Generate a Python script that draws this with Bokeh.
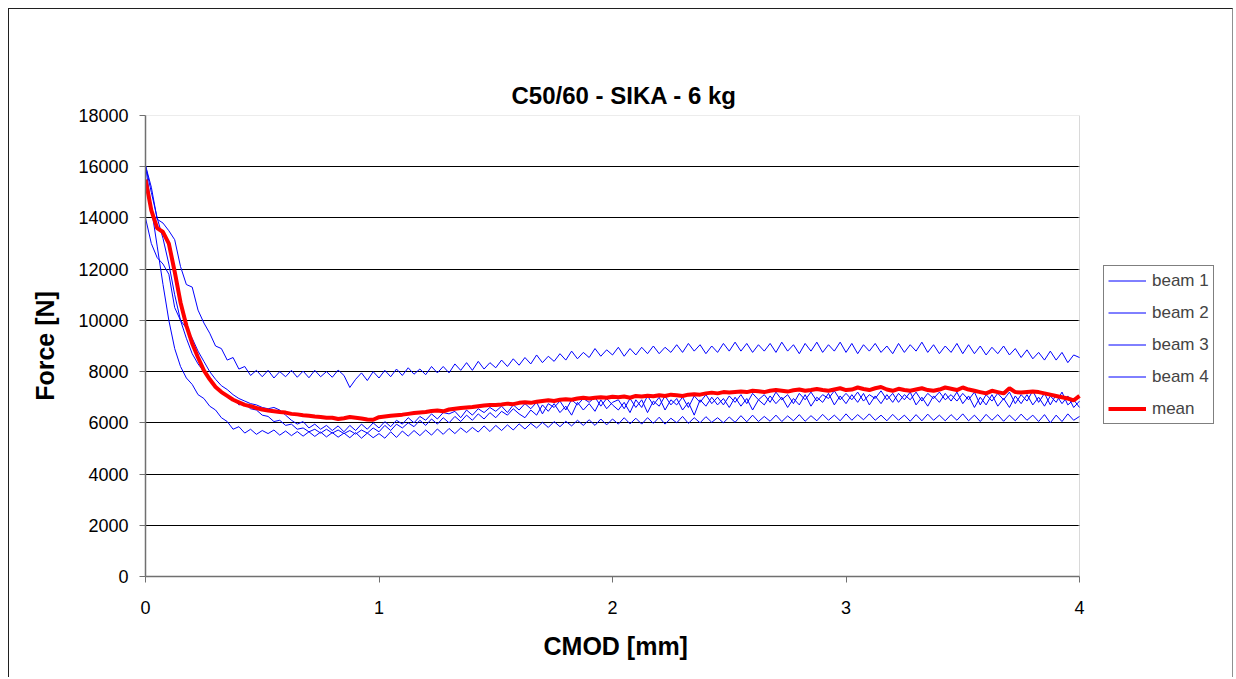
from bokeh.plotting import figure
from bokeh.models import (Range1d, SingleIntervalTicker, FixedTicker, Legend, LegendItem,
                          BoxAnnotation, Title, LinearAxis)
from bokeh.embed import file_html
from bokeh.resources import INLINE

title_text = "C50/60 - SIKA - 6 kg"
x_label = "CMOD [mm]"
y_label = "Force [N]"
series_names = ["beam 1", "beam 2", "beam 3", "beam 4", "mean"]

# CMOD sample grid [mm], 0.025 mm spacing
cmod = [round(i * 0.025, 3) for i in range(161)]

beam1 = [16050, 14400, 12900, 11400, 10000, 8900, 8200, 7750, 7500, 7100,
         6950, 6650, 6500, 6200, 6050, 5750, 5850, 5600, 5750, 5550,
         5700, 5580, 5720, 5520, 5680, 5500, 5660, 5480, 5650, 5470,
         5640, 5450, 5620, 5440, 5600, 5420, 5620, 5400, 5600, 5420,
         5580, 5400, 5650, 5430, 5680, 5480, 5700, 5500, 5720, 5520,
         5760, 5550, 5780, 5580, 5800, 5620, 5820, 5640, 5880, 5660,
         5900, 5700, 5920, 5720, 5960, 5760, 5980, 5800, 6020, 5820,
         6050, 5850, 6060, 5880, 6100, 5900, 6120, 5900, 6150, 5920,
         6150, 5950, 6200, 5960, 6180, 5950, 6200, 5980, 6220, 5950,
         6180, 6000, 6250, 5980, 6200, 6000, 6240, 6020, 6200, 6000,
         6230, 6020, 6280, 6040, 6300, 6050, 6250, 6060, 6300, 6050,
         6270, 6080, 6320, 6060, 6280, 6080, 6330, 6100, 6300, 6080,
         6350, 6100, 6320, 6120, 6350, 6100, 6300, 6080, 6330, 6100,
         6300, 6060, 6320, 6080, 6340, 6100, 6300, 6080, 6320, 6100,
         6350, 6080, 6300, 6050, 6330, 6100, 6320, 6060, 6300, 6080,
         6340, 6100, 6300, 6050, 6320, 6000, 6300, 6050, 6350, 6100,
         6250]

beam2 = [16050, 15200, 13950, 13800, 13500, 13150, 12100, 11400, 11300, 10400,
         9900, 9500, 9000, 8900, 8450, 8550, 8100, 8200, 7850, 8050,
         7800, 8050, 7750, 8000, 7800, 8050, 7780, 8020, 7760, 8050,
         7800, 8000, 7780, 8060, 7850, 7380, 7700, 7950, 7650, 8000,
         7750, 8050, 7800, 8100, 7850, 8150, 7900, 8100, 7880, 8200,
         7950, 8200, 7950, 8300, 8050, 8350, 8050, 8400, 8100, 8350,
         8150, 8450, 8200, 8500, 8250, 8550, 8300, 8650, 8350, 8600,
         8400, 8700, 8450, 8800, 8500, 8750, 8550, 8900, 8600, 8850,
         8650, 8950, 8600, 8900, 8650, 8950, 8700, 9000, 8700, 8950,
         8750, 9050, 8750, 9100, 8800, 9050, 8700, 9000, 8750, 9100,
         8800, 9150, 8800, 9100, 8750, 9050, 8800, 9100, 8750, 9150,
         8800, 9050, 8700, 9100, 8800, 9150, 8750, 9050, 8800, 9150,
         8750, 9100, 8700, 9050, 8800, 9100, 8750, 9000, 8700, 9100,
         8750, 9050, 8800, 9150, 8750, 9050, 8700, 9000, 8750, 9100,
         8700, 9050, 8700, 9000, 8650, 8950, 8700, 9000, 8650, 8900,
         8550, 8850, 8500, 8750, 8450, 8800, 8450, 8750, 8350, 8650,
         8550]

beam3 = [14000, 13000, 12450, 12200, 11800, 10500, 10000, 9700, 9300, 8800,
         8400, 8000, 7700, 7450, 7300, 7100, 6950, 6850, 6750, 6700,
         6600, 6550, 6600, 6500, 6300, 6100, 5950, 6050, 5800, 5950,
         5750, 5900, 5700, 5880, 5650, 5900, 5700, 5950, 5750, 6000,
         5800, 6050, 5850, 6100, 5950, 6200, 6000, 6250, 6100, 6350,
         6150, 6400, 6350, 6450, 6200, 6500, 6300, 6550, 6400, 6600,
         6450, 6650, 6400, 6700, 6500, 6750, 6550, 6800, 6350, 6750,
         6600, 6850, 6500, 6900, 6700, 6950, 6800, 7000, 6650, 6950,
         6700, 6500, 6800, 6400, 6900, 6600, 7050, 6700, 7000, 6500,
         6900, 6700, 7000, 6600, 7050, 6800, 7100, 6750, 7000, 6700,
         7050, 6800, 7100, 6750, 7150, 6900, 7100, 6800, 7200, 6900,
         7100, 6750, 7150, 6900, 7200, 6850, 7100, 6950, 7250, 6900,
         7150, 6900, 7200, 6850, 7100, 6950, 7250, 6900, 7150, 6800,
         7100, 6900, 7200, 6850, 7150, 6950, 7200, 6900, 7100, 6850,
         7150, 6900, 7200, 6700, 7100, 6850, 7150, 6900, 7200, 6750,
         7100, 6850, 7250, 6800, 7150, 6700, 7100, 6750, 7050, 6600,
         6850]

beam4 = [16050, 15000, 14000, 13200, 12200, 11000, 10000, 9300, 8700, 8300,
         8000, 7700, 7400, 7250, 7000, 6950, 6700, 6750, 6550, 6500,
         6300, 6250, 6050, 6100, 5900, 5950, 5750, 5800, 5650, 5750,
         5600, 5750, 5600, 5720, 5580, 5700, 5560, 5720, 5600, 5800,
         5650, 5900, 5700, 5950, 5800, 6000, 5850, 6100, 5900, 6150,
         5950, 6200, 6000, 6250, 6050, 6300, 6100, 6350, 6150, 6400,
         6200, 6450, 6300, 6550, 6350, 6200, 6500, 6300, 6700, 6450,
         6750, 6400, 6650, 6300, 6800, 6500, 6750, 6450, 6900, 6550,
         6800, 6900, 6550, 6950, 6600, 6900, 6400, 6850, 6650, 7050,
         6700, 6950, 6500, 6800, 6300, 6900, 6650, 7000, 6700, 6950,
         6600, 7000, 6650, 6950, 6500, 6900, 6700, 7050, 6750, 7000,
         6600, 6950, 6700, 7100, 6650, 7000, 6800, 7150, 6700, 7050,
         6750, 7100, 6800, 7150, 6700, 7050, 6750, 7100, 6800, 7150,
         6900, 7200, 6700, 7000, 6650, 7050, 6800, 7150, 6850, 7200,
         6750, 7050, 6600, 7000, 6700, 7100, 6650, 6950, 6600, 7050,
         6750, 7100, 6700, 7000, 6650, 7050, 6800, 7200, 6700, 6900,
         6600]

mean = [15500, 14300, 13600, 13450, 13000, 11900, 10700, 9800, 9100, 8550,
        8050, 7700, 7400, 7200, 7050, 6900, 6800, 6700, 6650, 6580,
        6520, 6480, 6450, 6420, 6400, 6350, 6330, 6300, 6280, 6250,
        6230, 6200, 6200, 6150, 6180, 6230, 6200, 6170, 6130, 6120,
        6220, 6250, 6280, 6300, 6320, 6350, 6380, 6400, 6420, 6460,
        6480, 6450, 6520, 6550, 6580, 6600, 6620, 6650, 6680, 6700,
        6700, 6720, 6750, 6730, 6780, 6800, 6780, 6820, 6850, 6880,
        6850, 6900, 6920, 6900, 6950, 6980, 6950, 6980, 7000, 6980,
        7020, 7000, 7030, 6980, 7050, 7030, 7060, 7040, 7080, 7050,
        7100, 7080, 7050, 7100, 7120, 7100, 7150, 7180, 7150, 7200,
        7180, 7200, 7220, 7200, 7250, 7230, 7200, 7250, 7280, 7250,
        7220, 7270, 7300, 7250, 7280, 7320, 7280, 7250, 7300, 7350,
        7280, 7300, 7380, 7320, 7280, 7350, 7400, 7300, 7250, 7330,
        7280, 7250, 7300, 7350, 7280, 7250, 7300, 7380, 7330, 7280,
        7380, 7300, 7250, 7200, 7150, 7250, 7200, 7150, 7350, 7200,
        7180, 7200, 7220, 7200, 7150, 7100, 7050, 7000, 6950, 6880,
        7050]

X_MIN, X_MAX = 0, 4
Y_MIN, Y_MAX = 0, 18000

FONT = "Liberation Sans"
# the figure sits inside a bordered box whose canvas starts at page pixel (9.5, 9.5)
W, H = 1225, 669
ML, MT = 136, 106            # plot area left / top inside the canvas
MR, MB = 0, H - 567          # frame reaches the right edge (room for the legend)
PLOT_W = 934                 # pixel width of the 0..4 mm plot area
frame_w = W - ML - MR
x_end = X_MAX * frame_w / PLOT_W

p = figure(width=W, height=H, output_backend="svg", toolbar_location=None,
           x_range=Range1d(X_MIN, x_end), y_range=Range1d(Y_MIN, Y_MAX),
           min_border_left=ML, min_border_right=MR,
           min_border_top=MT, min_border_bottom=MB,
           background_fill_color="white", border_fill_color="white")
p.title_location = None
p.styles = {"margin-left": "8px", "margin-top": "8px",
            "border-top": "1.5px solid #202020",
            "border-left": "1.5px solid #202020",
            "border-right": "1.5px solid #909090"}

p.outline_line_color = None

p.xgrid.grid_line_color = None
p.ygrid.grid_line_color = "black"
p.ygrid.grid_line_width = 1

p.xaxis.ticker = SingleIntervalTicker(interval=1)
p.yaxis.ticker = SingleIntervalTicker(interval=2000)
p.xaxis.bounds = (X_MIN, X_MAX)
for ax in (p.xaxis[0], p.yaxis[0]):
    ax.axis_line_color = "#707070"
    ax.axis_line_width = 1.5
    ax.major_tick_line_color = "#707070"
    ax.major_tick_in = 0
    ax.major_tick_out = 6
    ax.minor_tick_line_color = None
    ax.major_label_text_font = FONT
    ax.major_label_text_font_size = "18px"
    ax.major_label_text_color = "black"
    ax.axis_label_text_font = FONT
    ax.axis_label_text_font_style = "bold"
    ax.axis_label_text_font_size = "25px"
    ax.axis_label_text_color = "black"

p.yaxis.axis_label = y_label
p.xaxis.major_label_standoff = 18
p.yaxis.major_label_standoff = 11
p.yaxis.axis_label_standoff = 16

# chart title
p.add_layout(Title(text=title_text, align="left", offset=366, vertical_align="top",
                   standoff=10, text_font=FONT, text_font_style="bold",
                   text_font_size="24px", text_color="black"), "above")

# invisible spacer between plot area and chart title (white, tick-less axis)
spacer = LinearAxis(ticker=FixedTicker(ticks=[]), axis_line_color="white",
                    major_tick_line_color="white", minor_tick_line_color=None,
                    major_tick_in=0, major_tick_out=48, major_label_standoff=0,
                    major_label_text_font_size="1px")
p.add_layout(spacer, "above")

# x-axis title, centred under the 0..4 mm plot area
p.add_layout(Title(text=x_label, align="left", offset=398, vertical_align="top",
                   standoff=30, text_font=FONT, text_font_style="bold",
                   text_font_size="25px", text_color="black"), "below")

# blank out the gridlines to the right of the plot area (legend area)
p.add_layout(BoxAnnotation(left=X_MAX, fill_color="white", fill_alpha=1,
                           line_color="white", line_width=3, level="underlay"))
# plot-area border
p.add_layout(BoxAnnotation(left=X_MIN, right=X_MAX, bottom=Y_MIN, top=Y_MAX,
                           fill_alpha=0, line_color="#808080", line_width=1,
                           level="underlay"))

series = [beam1, beam2, beam3, beam4]
items = []
for name, ys in zip(series_names[:4], series):
    r = p.line(cmod, ys, line_color="#0000FF", line_width=1)
    items.append(LegendItem(label=name, renderers=[r]))
r = p.line(cmod, mean, line_color="#FF0000", line_width=4)
items.append(LegendItem(label=series_names[4], renderers=[r]))

lg = Legend(items=items, location=(958, 152))
lg.margin = 0
lg.padding = 4
lg.spacing = 11
lg.glyph_width = 38
lg.glyph_height = 21
lg.label_height = 21
lg.label_standoff = 6
lg.label_text_font = FONT
lg.label_text_font_size = "17px"
lg.border_line_color = "black"
lg.border_line_width = 1
lg.background_fill_alpha = 1
lg.background_fill_color = "white"
p.add_layout(lg, "center")

open("out.html", "w").write(file_html(p, INLINE))
